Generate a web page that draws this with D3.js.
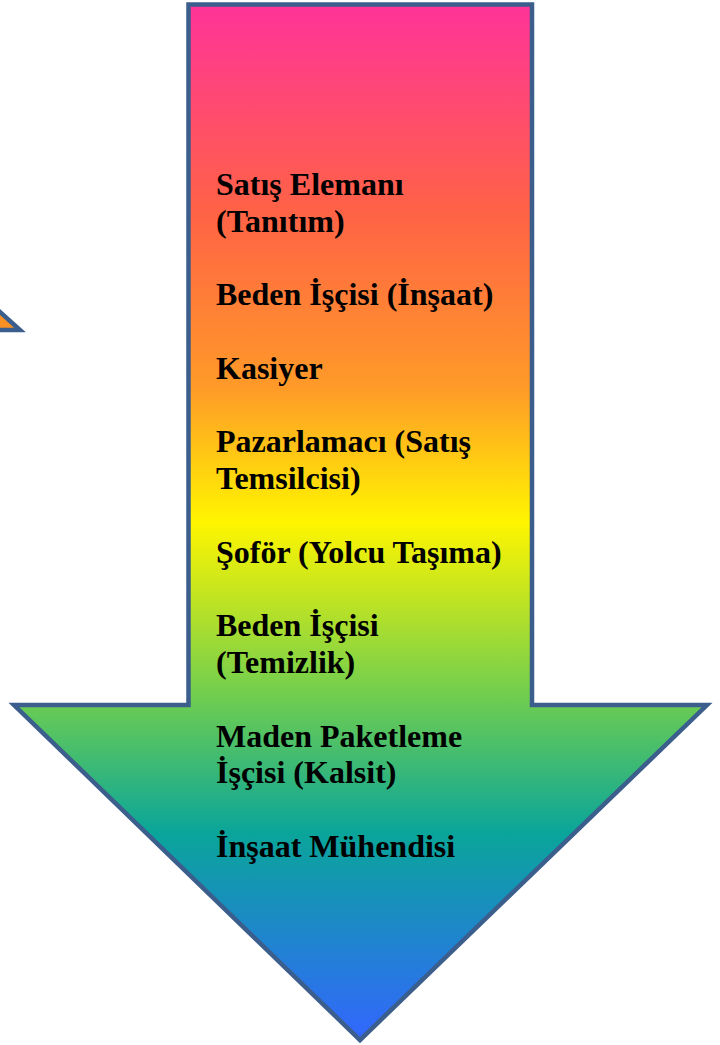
<!DOCTYPE html>
<html>
<head>
<meta charset="utf-8">
<script src="https://cdn.jsdelivr.net/npm/d3@7"></script>
<style>
  html, body { margin: 0; padding: 0; background: #fff; }
  svg { display: block; }
</style>
</head>
<body>
<script>
  // job titles, top to bottom, already split into the lines shown
  const jobs = [
    ['Satış Elemanı', '(Tanıtım)'],
    ['Beden İşçisi (İnşaat)'],
    ['Kasiyer'],
    ['Pazarlamacı (Satış', 'Temsilcisi)'],
    ['Şoför (Yolcu Taşıma)'],
    ['Beden İşçisi', '(Temizlik)'],
    ['Maden Paketleme', 'İşçisi (Kalsit)'],
    ['İnşaat Mühendisi']
  ];

  const gradientStops = [
    {offset: 0, color: '#ff3399'},
    {offset: 0.2, color: '#ff6246'},
    {offset: 0.37, color: '#ff9a28'},
    {offset: 0.5, color: '#fff500'},
    {offset: 0.67, color: '#6ecd50'},
    {offset: 0.8, color: '#0aa59a'},
    {offset: 1, color: '#3366ff'}
  ];

  const width = 720;
  const height = 1045;

  const svg = d3.select('body')
    .append('svg')
    .attr('width', width)
    .attr('height', height);

  const grad = svg.append('defs')
    .append('linearGradient')
    .attr('id', 'rainbow')
    .attr('gradientUnits', 'userSpaceOnUse')
    .attr('x1', 0).attr('y1', 4)
    .attr('x2', 0).attr('y2', 1040);

  grad.selectAll('stop')
    .data(gradientStops)
    .enter()
    .append('stop')
    .attr('offset', d => d.offset)
    .attr('stop-color', d => d.color);

  // small triangle peeking in at the left edge
  svg.append('path')
    .attr('d', d3.line()([[-100, 222], [20, 330], [-100, 330]]) + 'Z')
    .attr('fill', '#fb9124')
    .attr('stroke', '#3b5e8c')
    .attr('stroke-width', 4.5)
    .attr('stroke-linejoin', 'miter');

  // arrow outline
  const arrow = {shaftL: 188.5, shaftR: 532, top: 4.5, shoulder: 705, headL: 14, headR: 707, tipX: 360, tipY: 1040};
  const arrowPts = [
    [arrow.shaftL, arrow.top],
    [arrow.shaftR, arrow.top],
    [arrow.shaftR, arrow.shoulder],
    [arrow.headR, arrow.shoulder],
    [arrow.tipX, arrow.tipY],
    [arrow.headL, arrow.shoulder],
    [arrow.shaftL, arrow.shoulder]
  ];

  svg.append('path')
    .attr('d', d3.line()(arrowPts) + 'Z')
    .attr('fill', 'url(#rainbow)')
    .attr('stroke', '#3b5e8c')
    .attr('stroke-width', 4.5)
    .attr('stroke-linejoin', 'miter');

  // flatten jobs into text lines, with an empty line between entries
  const lines = [];
  jobs.forEach((job, i) => {
    job.forEach(t => lines.push({text: t, row: lines.length}));
    if (i < jobs.length - 1) lines.push({text: '', row: lines.length});
  });

  const y = d3.scaleLinear()
    .domain([0, lines.length - 1])
    .range([195, 857]);

  svg.append('g')
    .selectAll('text')
    .data(lines.filter(d => d.text))
    .enter()
    .append('text')
    .attr('x', 216)
    .attr('y', d => y(d.row))
    .attr('font-family', '"Liberation Serif", "Times New Roman", serif')
    .attr('font-weight', 'bold')
    .attr('font-size', 32)
    .attr('fill', '#000')
    .text(d => d.text);
</script>
</body>
</html>
